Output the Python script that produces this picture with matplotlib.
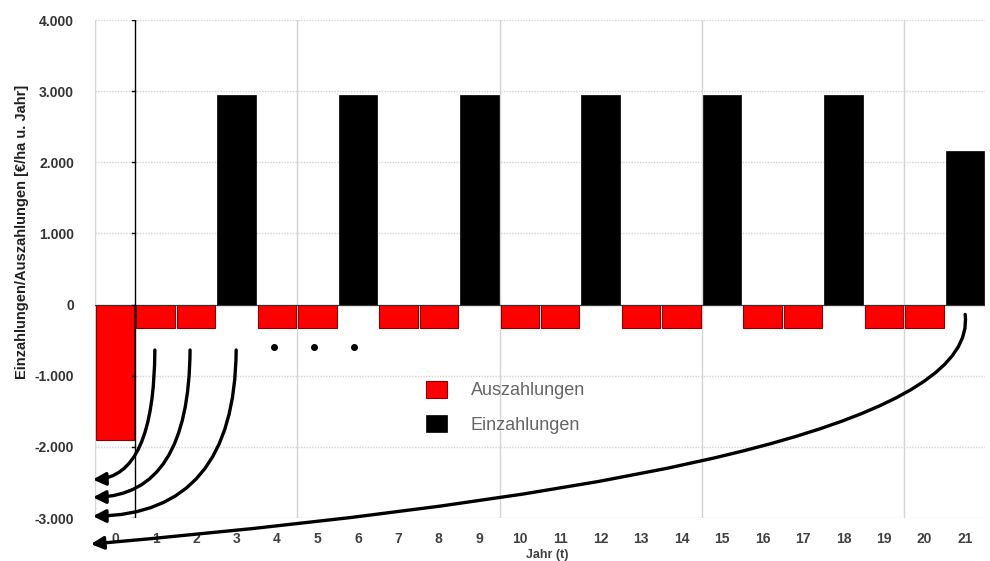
import matplotlib.pyplot as plt
import numpy as np
from matplotlib.ticker import FuncFormatter

plt.rcParams["font.family"] = ["Liberation Sans", "DejaVu Sans"]

# Jahre 0..21
jahre = list(range(22))
auszahlungen = [-1900, -330, -330, 0, -330, -330, 0, -330, -330, 0, -330, -330,
                0, -330, -330, 0, -330, -330, 0, -330, -330, 0]
einzahlungen = [0, 0, 0, 2940, 0, 0, 2940, 0, 0, 2940, 0, 0,
                2940, 0, 0, 2940, 0, 0, 2940, 0, 0, 2160]
y_ticks = [-3000, -2000, -1000, 0, 1000, 2000, 3000, 4000]

fig = plt.figure(figsize=(9.9, 5.61), dpi=100)
ax = fig.add_axes([95/990, 1 - 518/561, 890/990, 498/561])

x = np.array(jahre)
ax.bar(x, auszahlungen, width=0.95, color="#ff0000", edgecolor="#8a0000",
       linewidth=0.8, label="Auszahlungen", zorder=3)
ax.bar(x, einzahlungen, width=0.95, color="#000000", edgecolor="#000000",
       linewidth=0.5, label="Einzahlungen", zorder=3)

ax.set_xlim(-0.5, 21.5)
ax.set_ylim(-3000, 4000)

# Gitter
for yv in y_ticks:
    ax.axhline(yv, color="#d4d4d4", lw=1.0, ls=(0, (1, 1)), zorder=1)
for xv in [-0.5, 4.5, 9.5, 14.5, 19.5]:
    ax.axvline(xv, color="#d4d4d4", lw=1.0, zorder=1)
ax.axhline(0, color="#333333", lw=0.8, zorder=4)

# senkrechte Achse zwischen Jahr 0 und 1
ax.plot([0.5, 0.5], [-3000, 4000], color="black", lw=1.0, zorder=5)
for yv in y_ticks:
    ax.plot([0.42, 0.5], [yv, yv], color="black", lw=1.0, zorder=5)

for s in ax.spines.values():
    s.set_visible(False)

ax.set_yticks(y_ticks)
ax.yaxis.set_major_formatter(FuncFormatter(lambda v, p: f"{int(v):,}".replace(",", ".")))
ax.set_xticks(x)
ax.set_xticklabels([str(j) for j in jahre])
ax.tick_params(axis="y", length=0, pad=15, labelsize=10, labelcolor="#333333")
ax.tick_params(axis="x", length=0, pad=10, labelsize=10, labelcolor="#404040")
for lab in ax.get_xticklabels() + ax.get_yticklabels():
    lab.set_fontweight("bold")

ax.set_ylabel("Einzahlungen/Auszahlungen [€/ha u. Jahr]", fontsize=10.5,
              fontweight="bold", color="#202020")
ax.yaxis.set_label_coords(-0.074, 0.574)
fig.text(0.553, 0.0, "Jahr (t)", ha="center", va="bottom",
         fontsize=9, fontweight="bold", color="#404040")

# Pfeile (Abzinsung)
arrow = dict(arrowstyle="-|>,head_length=0.75,head_width=0.38", color="black",
             lw=2.4, connectionstyle="angle3,angleA=90,angleB=0")
ax.annotate("", xy=(-0.62, -2460), xytext=(0.98, -600), arrowprops=arrow,
            annotation_clip=False, zorder=6)
ax.annotate("", xy=(-0.62, -2710), xytext=(1.85, -600), arrowprops=arrow,
            annotation_clip=False, zorder=6)
ax.annotate("", xy=(-0.62, -2975), xytext=(2.99, -600), arrowprops=arrow,
            annotation_clip=False, zorder=6)
arrow4 = dict(arrow, connectionstyle="angle3,angleA=100,angleB=5")
ax.annotate("", xy=(-0.67, -3370), xytext=(21.0, -100), arrowprops=arrow4,
            annotation_clip=False, zorder=6)

ax.plot([3.93, 4.92, 5.9], [-590, -590, -590], "o", color="black", ms=4,
        zorder=6)

leg = ax.legend(loc="upper left", bbox_to_anchor=(0.372, 0.276), frameon=False,
                fontsize=13, handlelength=1.17, handleheight=1.1,
                labelspacing=0.85, handletextpad=1.3, borderpad=0,
                borderaxespad=0)
for t in leg.get_texts():
    t.set_color("#666666")

fig.savefig("out.png", dpi=100)
